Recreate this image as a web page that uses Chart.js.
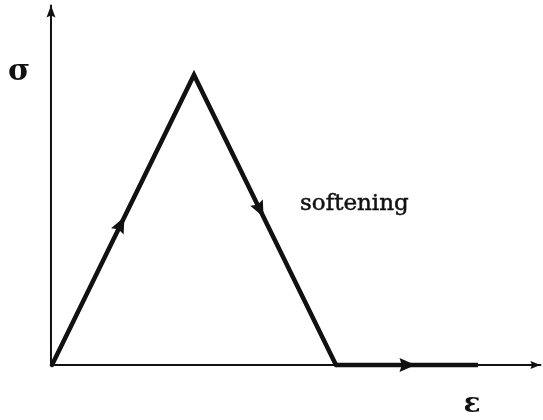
<!DOCTYPE html>
<html>
<head>
<meta charset="utf-8">
<script src="https://cdn.jsdelivr.net/npm/chart.js@4"></script>
<style>
  html, body { margin: 0; padding: 0; background: #fff; }
  #wrap { width: 543px; height: 420px; }
</style>
</head>
<body>
<div id="wrap"><canvas id="chart01" width="543" height="420"></canvas></div>
<script>
// load path (strain, stress), peak normalised to 1
const pathX = [0, 1, 2, 3];
const pathY = [0, 1, 0, 0];
// axes
const axisXLineX = [0, 3.44];
const axisXLineY = [0, 0];
const axisYLineX = [-0.007, -0.007];
const axisYLineY = [0, 1.24];
// arrows on the path: segment index and position along it
const arrowSeg = [0, 1, 2];
const arrowAt = [0.51, 0.49, 0.56];

const labelSigma = "σ";
const labelEps = "ε";
const labelSoft = "softening";

function pts(xs, ys) {
    return xs.map((x, i) => ({ x: x, y: ys[i] }));
}

function head(ctx, x0, y0, x1, y1, len, wid) {
    const a = Math.atan2(y1 - y0, x1 - x0);
    ctx.save();
    ctx.translate(x1, y1);
    ctx.rotate(a);
    ctx.beginPath();
    ctx.moveTo(0, 0);
    ctx.lineTo(-len, wid / 2);
    ctx.lineTo(-len * 0.85, 0);
    ctx.lineTo(-len, -wid / 2);
    ctx.closePath();
    ctx.fill();
    ctx.restore();
}

const arrowPlugin = {
    id: "arrows",
    afterDatasetsDraw(chart) {
        const ctx = chart.ctx;
        const sx = chart.scales.x, sy = chart.scales.y;
        ctx.save();
        ctx.fillStyle = "#111";
        // axis heads
        head(ctx, sx.getPixelForValue(axisYLineX[0]), sy.getPixelForValue(axisYLineY[0]),
            sx.getPixelForValue(axisYLineX[1]), sy.getPixelForValue(axisYLineY[1]), 12, 9);
        head(ctx, sx.getPixelForValue(axisXLineX[0]), sy.getPixelForValue(axisXLineY[0]),
            sx.getPixelForValue(axisXLineX[1]), sy.getPixelForValue(axisXLineY[1]), 10, 8);
        // path heads
        arrowSeg.forEach((s, i) => {
            const x0 = sx.getPixelForValue(pathX[s]), y0 = sy.getPixelForValue(pathY[s]);
            const x1 = sx.getPixelForValue(pathX[s + 1]), y1 = sy.getPixelForValue(pathY[s + 1]);
            const t = arrowAt[i];
            const tx = x0 + (x1 - x0) * t, ty = y0 + (y1 - y0) * t;
            head(ctx, x0, y0, tx, ty, 16, 14);
        });
        // labels
        ctx.textAlign = "center";
        ctx.textBaseline = "middle";
        ctx.font = "bold 30px 'DejaVu Serif'";
        ctx.fillText(labelSigma, 19, 72);
        ctx.font = "bold 28px 'DejaVu Serif'";
        ctx.fillText(labelEps, 472, 405);
        ctx.textAlign = "left";
        ctx.textBaseline = "alphabetic";
        ctx.font = "23px 'DejaVu Serif'";
        ctx.lineWidth = 0.5;
        ctx.strokeStyle = "#111";
        ctx.fillText(labelSoft, 300, 210);
        ctx.strokeText(labelSoft, 300, 210);
        ctx.restore();
    }
};

new Chart(document.getElementById("chart01"), {
    type: "scatter",
    data: {
        datasets: [
            { data: pts(axisXLineX, axisXLineY), borderWidth: 2 },
            { data: pts(axisYLineX, axisYLineY), borderWidth: 2 },
            { data: pts(pathX.slice(0, 3), pathY.slice(0, 3)), borderWidth: 4.5 },
            { data: pts(pathX.slice(2), pathY.slice(2)), borderWidth: 4.5, borderCapStyle: "butt" }
        ].map(d => Object.assign({
            showLine: true,
            borderColor: "#111",
            pointRadius: 0,
            borderJoinStyle: "miter",
            borderCapStyle: "round"
        }, d))
    },
    options: {
        responsive: false,
        animation: false,
        layout: { padding: 0 },
        plugins: { legend: { display: false }, tooltip: { enabled: false } },
        scales: {
            x: { type: "linear", display: false, min: -0.366, max: 3.458 },
            y: { type: "linear", display: false, min: -0.19, max: 1.2586 }
        }
    },
    plugins: [arrowPlugin]
});
</script>
</body>
</html>
